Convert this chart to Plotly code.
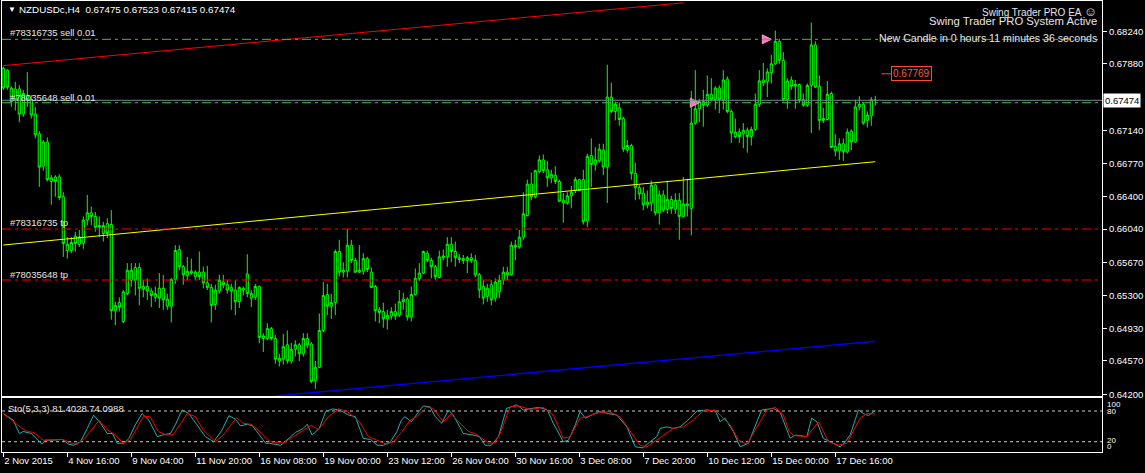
import plotly.graph_objects as go

# ---------------- data ----------------
opens = [0.6783,0.6781,0.6746,0.6760,0.6760,0.6732,0.6753,0.6748,0.6732,0.6710,
0.6674,0.6701,0.6657,0.6662,0.6662,0.6640,0.6580,0.6580,0.6596,0.6587,
0.6588,0.6614,0.6622,0.6618,0.6608,0.6599,0.6610,0.6609,0.6513,0.6522,
0.6501,0.6532,0.6547,0.6561,0.6561,0.6540,0.6540,0.6535,0.6528,0.6538,
0.6538,0.6518,0.6518,0.6548,0.6581,0.6562,0.6552,0.6557,0.6551,0.6556,
0.6556,0.6544,0.6539,0.6520,0.6535,0.6545,0.6542,0.6539,0.6536,0.6523,
0.6536,0.6554,0.6527,0.6528,0.6540,0.6482,0.6482,0.6493,0.6482,0.6457,
0.6459,0.6475,0.6457,0.6470,0.6475,0.6465,0.6482,0.6476,0.6435,0.6450,
0.6491,0.6531,0.6518,0.6522,0.6579,0.6556,0.6557,0.6586,0.6569,0.6556,
0.6557,0.6571,0.6556,0.6540,0.6514,0.6512,0.6504,0.6507,0.6512,0.6508,
0.6526,0.6526,0.6506,0.6531,0.6549,0.6555,0.6577,0.6569,0.6562,0.6550,
0.6572,0.6573,0.6587,0.6579,0.6572,0.6571,0.6569,0.6572,0.6569,0.6553,
0.6540,0.6529,0.6542,0.6527,0.6534,0.6547,0.6556,0.6553,0.6586,0.6584,
0.6595,0.6619,0.6654,0.6640,0.6668,0.6681,0.6670,0.6661,0.6664,0.6657,
0.6636,0.6633,0.6641,0.6647,0.6659,0.6659,0.6613,0.6686,0.6676,0.6680,
0.6692,0.6673,0.6751,0.6735,0.6739,0.6727,0.6692,0.6697,0.6666,0.6650,
0.6644,0.6631,0.6633,0.6653,0.6622,0.6642,0.6626,0.6637,0.6626,0.6636,
0.6618,0.6632,0.6627,0.6722,0.6738,0.6746,0.6742,0.6754,0.6748,0.6761,
0.6748,0.6771,0.6735,0.6707,0.6712,0.6710,0.6714,0.6707,0.6715,0.6743,
0.6770,0.6768,0.6778,0.6788,0.6813,0.6792,0.6748,0.6770,0.6763,0.6765,
0.6748,0.6742,0.6764,0.6809,0.6763,0.6725,0.6726,0.6755,0.6696,0.6691,
0.6699,0.6690,0.6713,0.6701,0.6740,0.6743,0.6725,0.6730,0.67475]

highs = [0.6785,0.6782,0.6763,0.6768,0.6764,0.6759,0.6779,0.6753,0.6740,0.6713,
0.6703,0.6706,0.6664,0.6664,0.6665,0.6645,0.6595,0.6595,0.6601,0.6603,
0.6618,0.6642,0.6629,0.6623,0.6618,0.6612,0.6616,0.6625,0.6523,0.6528,
0.6536,0.6566,0.6566,0.6566,0.6566,0.6547,0.6549,0.6538,0.6540,0.6555,
0.6553,0.6532,0.6549,0.6586,0.6586,0.6564,0.6573,0.6571,0.6558,0.6579,
0.6562,0.6563,0.6543,0.6542,0.6553,0.6553,0.6547,0.6543,0.6547,0.6540,
0.6540,0.6576,0.6536,0.6543,0.6541,0.6488,0.6499,0.6495,0.6486,0.6465,
0.6487,0.6491,0.6477,0.6480,0.6477,0.6488,0.6488,0.6478,0.6457,0.6510,
0.6545,0.6543,0.6532,0.6581,0.6592,0.6567,0.6604,0.6592,0.6572,0.6586,
0.6577,0.6573,0.6561,0.6542,0.6517,0.6522,0.6514,0.6517,0.6521,0.6536,
0.6533,0.6528,0.6540,0.6560,0.6566,0.6580,0.6580,0.6572,0.6564,0.6580,
0.6581,0.6595,0.6595,0.6590,0.6576,0.6575,0.6574,0.6577,0.6575,0.6555,
0.6547,0.6543,0.6547,0.6549,0.6553,0.6562,0.6562,0.6590,0.6592,0.6603,
0.6645,0.6659,0.6667,0.6670,0.6686,0.6687,0.6680,0.6670,0.6674,0.6659,
0.6644,0.6645,0.6652,0.6662,0.6660,0.6670,0.6688,0.6705,0.6695,0.6699,
0.6699,0.6787,0.6767,0.6746,0.6745,0.6729,0.6703,0.6699,0.6678,0.6653,
0.6651,0.6647,0.6658,0.6654,0.6647,0.6647,0.6658,0.6641,0.6644,0.6644,
0.6662,0.6660,0.6758,0.6781,0.6749,0.6759,0.6775,0.6772,0.6763,0.6764,
0.6781,0.6774,0.6737,0.6727,0.6716,0.6722,0.6717,0.6718,0.6755,0.6781,
0.6789,0.6783,0.6798,0.6825,0.6816,0.6801,0.6772,0.6774,0.6770,0.6766,
0.6755,0.6766,0.6834,0.6813,0.6775,0.6739,0.6769,0.6757,0.6710,0.6705,
0.6705,0.6716,0.6715,0.6748,0.6752,0.6745,0.6735,0.6751,0.67523]

lows = [0.6759,0.6759,0.6740,0.6736,0.6723,0.6729,0.6740,0.6727,0.6705,0.6651,
0.6669,0.6657,0.6631,0.6640,0.6636,0.6573,0.6571,0.6577,0.6579,0.6584,
0.6582,0.6608,0.6608,0.6601,0.6595,0.6590,0.6594,0.6503,0.6497,0.6512,
0.6499,0.6530,0.6540,0.6530,0.6519,0.6528,0.6525,0.6517,0.6523,0.6516,
0.6514,0.6514,0.6500,0.6543,0.6558,0.6542,0.6547,0.6553,0.6547,0.6547,
0.6538,0.6536,0.6500,0.6514,0.6532,0.6538,0.6532,0.6514,0.6508,0.6516,
0.6530,0.6528,0.6517,0.6525,0.6477,0.6467,0.6480,0.6480,0.6454,0.6451,
0.6453,0.6454,0.6454,0.6462,0.6457,0.6462,0.6471,0.6432,0.6426,0.6449,
0.6489,0.6508,0.6504,0.6508,0.6551,0.6550,0.6550,0.6566,0.6555,0.6555,
0.6553,0.6556,0.6538,0.6501,0.6499,0.6494,0.6492,0.6503,0.6503,0.6506,
0.6514,0.6502,0.6501,0.6530,0.6546,0.6554,0.6567,0.6549,0.6547,0.6549,
0.6569,0.6562,0.6567,0.6562,0.6566,0.6565,0.6555,0.6566,0.6550,0.6527,
0.6520,0.6523,0.6519,0.6523,0.6527,0.6542,0.6547,0.6552,0.6569,0.6582,
0.6592,0.6618,0.6636,0.6638,0.6666,0.6666,0.6651,0.6655,0.6654,0.6634,
0.6611,0.6631,0.6627,0.6644,0.6646,0.6609,0.6606,0.6651,0.6669,0.6678,
0.6664,0.6633,0.6733,0.6725,0.6719,0.6690,0.6689,0.6659,0.6636,0.6637,
0.6625,0.6627,0.6624,0.6619,0.6609,0.6623,0.6621,0.6621,0.6621,0.6592,
0.6617,0.6618,0.6597,0.6720,0.6723,0.6718,0.6740,0.6746,0.6737,0.6733,
0.6737,0.6733,0.6700,0.6705,0.6700,0.6694,0.6689,0.6697,0.6713,0.6740,
0.6763,0.6751,0.6766,0.6787,0.6788,0.6746,0.6738,0.6759,0.6738,0.6744,
0.6740,0.6740,0.6711,0.6761,0.6714,0.6722,0.6725,0.6694,0.6685,0.6681,
0.6680,0.6688,0.6692,0.6700,0.6736,0.6720,0.6717,0.6719,0.67415]

closes = [0.6761,0.6762,0.6761,0.6748,0.6732,0.6755,0.6748,0.6731,0.6709,0.6673,
0.6701,0.6659,0.6661,0.6657,0.6639,0.6588,0.6587,0.6589,0.6588,0.6595,
0.6614,0.6622,0.6618,0.6606,0.6606,0.6608,0.6599,0.6513,0.6519,0.6517,
0.6534,0.6558,0.6558,0.6547,0.6538,0.6537,0.6535,0.6530,0.6532,0.6527,
0.6525,0.6526,0.6548,0.6580,0.6562,0.6553,0.6557,0.6555,0.6556,0.6551,
0.6544,0.6539,0.6519,0.6536,0.6547,0.6542,0.6536,0.6535,0.6523,0.6539,
0.6538,0.6532,0.6532,0.6540,0.6483,0.6485,0.6493,0.6482,0.6459,0.6460,
0.6473,0.6457,0.6470,0.6475,0.6465,0.6482,0.6475,0.6434,0.6450,0.6491,
0.6530,0.6518,0.6522,0.6579,0.6556,0.6558,0.6586,0.6569,0.6556,0.6558,
0.6571,0.6559,0.6539,0.6513,0.6511,0.6504,0.6508,0.6512,0.6507,0.6523,
0.6523,0.6506,0.6531,0.6549,0.6555,0.6579,0.6569,0.6562,0.6551,0.6573,
0.6574,0.6587,0.6579,0.6572,0.6570,0.6569,0.6572,0.6569,0.6553,0.6536,
0.6527,0.6538,0.6525,0.6545,0.6547,0.6556,0.6553,0.6586,0.6584,0.6595,
0.6621,0.6654,0.6640,0.6669,0.6681,0.6669,0.6661,0.6665,0.6657,0.6635,
0.6633,0.6641,0.6645,0.6659,0.6647,0.6612,0.6685,0.6676,0.6681,0.6693,
0.6673,0.6751,0.6735,0.6743,0.6726,0.6693,0.6697,0.6666,0.6650,0.6643,
0.6631,0.6634,0.6653,0.6622,0.6642,0.6625,0.6637,0.6627,0.6636,0.6618,
0.6632,0.6630,0.6722,0.6738,0.6746,0.6742,0.6754,0.6748,0.6761,0.6748,
0.6770,0.6735,0.6711,0.6712,0.6707,0.6714,0.6707,0.6715,0.6743,0.6769,
0.6767,0.6779,0.6788,0.6813,0.6792,0.6748,0.6769,0.6763,0.6765,0.6747,
0.6742,0.6764,0.6809,0.6762,0.6725,0.6727,0.6754,0.6695,0.6691,0.6699,
0.6690,0.6712,0.6701,0.6740,0.6743,0.6722,0.6731,0.6748,0.67474]

# time axis labels (bar index -> label)
time_tick_idx = [0, 16, 32, 48, 64, 80, 96, 112, 128, 144, 160, 176, 192, 208]
time_tick_text = ["2 Nov 2015", "4 Nov 16:00", "9 Nov 04:00", "11 Nov 20:00",
                  "16 Nov 08:00", "19 Nov 00:00", "23 Nov 12:00", "26 Nov 04:00",
                  "30 Nov 16:00", "3 Dec 08:00", "7 Dec 20:00", "10 Dec 12:00",
                  "15 Dec 00:00", "17 Dec 16:00"]

price_ticks = [0.68240, 0.67880, 0.67140, 0.66770, 0.66400, 0.66040,
               0.65670, 0.65300, 0.64930, 0.64570, 0.64200]

# Stochastic (5,3,3) main (%K) and signal (%D)
stoch_k_x = [0,2.5,4,5,7,9.7,10.5,12.2,14.7,16.4,17.6,19.3,21,22.6,24.3,26,27.3,28.5,30.2,31.4,
             33,34.7,36.4,38.5,40.2,41.8,43,44.7,46.4,48.9,50.5,52.6,54.7,56.4,58,59.3,61,62.3,64,
             65.6,66.5,69.3,71.4,73,75,76,77.2,79,80.6,82.3,84,86.4,88,90,91.8,93.5,95.1,96.8,
             98.4,99.5,100.4,102,104.2,105,106.7,108,109.6,111.3,112.5,115,117.5,119,120.5,122,
             123.8,125.8,128.4,130,132,134,136,137.5,140,141.3,143,144.2,145.5,147,149,151.3,
             153.4,155.9,158,160,161.7,163.4,164.2,165.9,167.5,169.2,171.7,173.4,175.9,178,
             179.2,180.4,182.5,184.2,186.3,188.4,189.6,192.5,194.2,195.9,196.7,198,200.9,202.1,
             203.4,205,207.5,209.2,210.5,211.7,213.8,215,216.3,218]
stoch_k = [75,62,36,40,36,15,23,23,24.5,15,13,20,46,72,56,36,36,17,17,26.5,
           53,75,62,30,34,36,53,82,75,49,30,20,43,71,64,51,54,51,33,
           17,17,13,26.5,38,46,54,33,46,79,84,82,72,69,26.5,24.5,13,13,20,
           40,62,69,59,82,90,88,69,56,82,72,36,33,30,13,13,
           30,85,92,82,85,87,82,56,20,23,53,79,66,72,79,75,
           72,49,10,8,20,30,46,49,46,49,66,80,82,80,
           59,66,40,10,17,59,82,85,78,43,27,33,30,66,
           59,26.5,17,10,20,33,82,75,71,81.4028]
stoch_d_x = [0,4.7,6,7.6,10,15,17,18.5,20.3,24,26,27.5,30,31.7,35,36.7,38.7,40.8,42.5,46,48,50,
             53,55,58.3,60,62,63.7,66.7,70,72.5,77,78.8,81.3,83.8,86,89,91.3,95.8,97.5,99.5,
             101.7,103.4,105.9,107.5,110,112,113.4,116.3,118.4,121.3,123,124.2,126.7,128.8,
             131.7,135,137.5,140,141.7,144.2,145.9,148,151.3,154.2,157.5,159.2,160.9,163.4,
             167.5,170,172.5,175,178,179.6,181.7,183.8,185.9,189.2,190.9,193,195,196.5,197.5,
             200.9,203.8,206.3,208.8,210.9,214.2,215.9,218]
stoch_d = [75,46,40,38,23,24.5,17,15,26.5,62,43,36,17,23,69,69,40,33,34,75,69,43,
           20,33,67,56,54,43,20,17,30,52,43,69,84,79,59,30,15,20,38,
           62,69,88,85,59,75,62,40,34,17,18,36,88,90,
           83,87,72,26.5,30,66,69,75,79,69,33,13,10,23,
           46,49,62,80,82,69,53,23,15,59,82,87,72,40,32,
           30,59,20,13,17,66,75,74.0988]
stoch_levels = [80, 20]

# order / price levels
order_sell_1 = 0.68153      # #78316735 sell 0.01
order_sell_2 = 0.67447      # #78035648 sell 0.01
order_tp_1 = 0.66040        # #78316735 tp
order_tp_2 = 0.65472        # #78035648 tp
bid_price = 0.67474
marked_price = 0.67769

# trend lines (bar index, price)
red_line_x, red_line_y = [0, 170], [0.67860, 0.68560]
yellow_line_x, yellow_line_y = [0, 218], [0.65862, 0.66790]
blue_line_x, blue_line_y = [68, 218], [0.64180, 0.64790]

# order-open arrows (bar index, price)
arrow_x = [174, 192]
arrow_y = [0.67447, 0.68153]

# ---------------- layout geometry ----------------
W, H = 1145, 473
LM, RM, TM, BM = 2, 43, 1, 21
PW, PH = W - LM - RM, H - TM - BM
BOT = H - BM


def fx(px):
    return (px - LM) / PW


def fy(py):
    return (BOT - py) / PH


FONT = "Liberation Sans"
WHITE = "#ffffff"
TXT = "#e6e6e6"
n = len(closes)
idx = list(range(n))

fig = go.Figure()

# trend lines (behind candles)
fig.add_trace(go.Scatter(x=yellow_line_x, y=yellow_line_y, mode="lines",
                         line=dict(color="#ffff00", width=1), hoverinfo="skip"))
fig.add_trace(go.Scatter(x=red_line_x, y=red_line_y, mode="lines",
                         line=dict(color="#ff0000", width=1), hoverinfo="skip"))
fig.add_trace(go.Scatter(x=blue_line_x, y=blue_line_y, mode="lines",
                         line=dict(color="#0000ff", width=1.3), hoverinfo="skip"))

cs = dict(line=dict(color="#00ff00", width=1), fillcolor="#000000")
fig.add_trace(go.Candlestick(x=idx, open=opens, high=highs, low=lows, close=closes,
                             increasing=cs, decreasing=cs, whiskerwidth=0,
                             hoverinfo="skip"))

# arrows for opened orders
fig.add_trace(go.Scatter(x=arrow_x, y=arrow_y, mode="markers",
                         marker=dict(symbol="arrow-right", size=9, color="#ff70c0",
                                     line=dict(color="#ff9ad0", width=1)),
                         hoverinfo="skip"))

# short connector to the marked price label
fig.add_trace(go.Scatter(x=[n + 0.5, n + 3], y=[marked_price, marked_price], mode="lines",
                         line=dict(color="#ff4a2a", width=1), hoverinfo="skip"))

# stochastic
fig.add_trace(go.Scatter(x=stoch_k_x, y=stoch_k, mode="lines", xaxis="x2", yaxis="y2",
                         line=dict(color="#20b2aa", width=1), hoverinfo="skip"))
fig.add_trace(go.Scatter(x=stoch_d_x, y=stoch_d, mode="lines", xaxis="x2", yaxis="y2",
                         line=dict(color="#ff0000", width=1), hoverinfo="skip"))

shapes = []
for lv in stoch_levels:
    shapes.append(dict(type="line", xref="x2 domain", x0=0, x1=1, yref="y2", y0=lv, y1=lv,
                       line=dict(color="#c8c8c8", width=1, dash="3px,3px"), layer="below"))
shapes.append(dict(type="line", xref="x domain", x0=0, x1=1, yref="y", y0=bid_price, y1=bid_price,
                   line=dict(color="#778899", width=1)))
for lv in (order_sell_1, order_sell_2):
    shapes.append(dict(type="line", xref="x domain", x0=0, x1=1, yref="y", y0=lv, y1=lv,
                       line=dict(color="#32c832", width=1, dash="9px,4px,3px,4px")))
for lv in (order_tp_1, order_tp_2):
    shapes.append(dict(type="line", xref="x domain", x0=0, x1=1, yref="y", y0=lv, y1=lv,
                       line=dict(color="#ff0000", width=1, dash="9px,4px,3px,4px")))

ann = []


def txt(text, x, y, size=9.5, color=TXT, xanchor="left", yanchor="middle", **kw):
    ann.append(dict(text=text, x=fx(x), y=fy(y), xref="paper", yref="paper",
                    xanchor=xanchor, yanchor=yanchor, showarrow=False,
                    font=dict(family=FONT, size=size, color=color), **kw))


txt("▼", 6, 10, size=8, color=WHITE)
txt("NZDUSDc,H4  %.5f %.5f %.5f %.5f" % (opens[-1], highs[-1], lows[-1], closes[-1]),
    17, 10, size=9.8, color=WHITE)
txt("#78316735 sell 0.01", 8, 33, size=9.5)
txt("#78035648 sell 0.01", 8, 97, size=9.5)
txt("#78316735 tp", 8, 223, size=9.5)
txt("#78035648 tp", 8, 274, size=9.5)
txt("Swing Trader PRO EA <span style='font-size:13px'>☺</span>", 1099, 11, size=10, xanchor="right")
txt("Swing Trader PRO System Active", 1099, 21, size=11.3, xanchor="right")
txt("New Candle in 0 hours 11 minutes 36 seconds", 1099, 38, size=10.6, xanchor="right")
txt("Sto(5,3,3) %.4f %.4f" % (stoch_k[-1], stoch_d[-1]), 6, 408, size=9.5)

for label, ypix in (("100", 404), ("80", 411), ("20", 440), ("0", 446)):
    txt(label, 1105, ypix, size=8, color=WHITE)

# current bid label on the price scale
ann.append(dict(text="%.5f" % bid_price, x=1, xref="paper", y=bid_price, yref="y",
                xanchor="left", yanchor="middle", showarrow=False, xshift=1,
                bgcolor="#ffffff", borderpad=1,
                font=dict(family=FONT, size=9.5, color="#000000")))
# marked price label
ann.append(dict(text="%.5f" % marked_price, x=n + 3, xref="x", y=marked_price, yref="y",
                xanchor="left", yanchor="middle", showarrow=False,
                bordercolor="#ff4a2a", borderwidth=1, borderpad=1,
                font=dict(family=FONT, size=10, color="#ff5a3a")))

x_range = [-0.325, -0.325 + PW / 4.0]
axis_common = dict(showgrid=False, zeroline=False, showline=True, mirror=True,
                   linecolor=WHITE, linewidth=1)

fig.update_layout(
    width=W, height=H,
    margin=dict(l=LM, r=RM, t=TM, b=BM, pad=0),
    paper_bgcolor="#000000", plot_bgcolor="#000000",
    showlegend=False, boxgap=0.22,
    font=dict(family=FONT, color=WHITE, size=9.5),
    shapes=shapes, annotations=ann,
    xaxis=dict(range=x_range, anchor="y", showticklabels=False, ticks="",
               rangeslider=dict(visible=False), **axis_common),
    xaxis2=dict(range=x_range, anchor="y2", matches="x", tickmode="array",
                tickvals=time_tick_idx, ticktext=time_tick_text, ticks="outside",
                ticklen=4, tickcolor=WHITE, ticklabelposition="outside right",
                tickangle=0,
                tickfont=dict(family=FONT, size=9.5, color=WHITE), **axis_common),
    yaxis=dict(domain=[fy(396), 1.0], range=[0.64180, 0.68580], anchor="x", side="right",
               tickmode="array", tickvals=price_ticks,
               ticktext=["%.5f" % v for v in price_ticks], ticks="outside", ticklen=4,
               tickcolor=WHITE, tickfont=dict(family=FONT, size=9.5, color=WHITE),
               **axis_common),
    yaxis2=dict(domain=[0.0, fy(398)], range=[-0.1, 105.4], anchor="x2", side="right",
                showticklabels=False, ticks="", **axis_common),
)

fig.write_html("out.html",
               config={"displayModeBar": False, "staticPlot": True},
               post_script="document.body.style.margin='0';document.body.style.background='#000';")
